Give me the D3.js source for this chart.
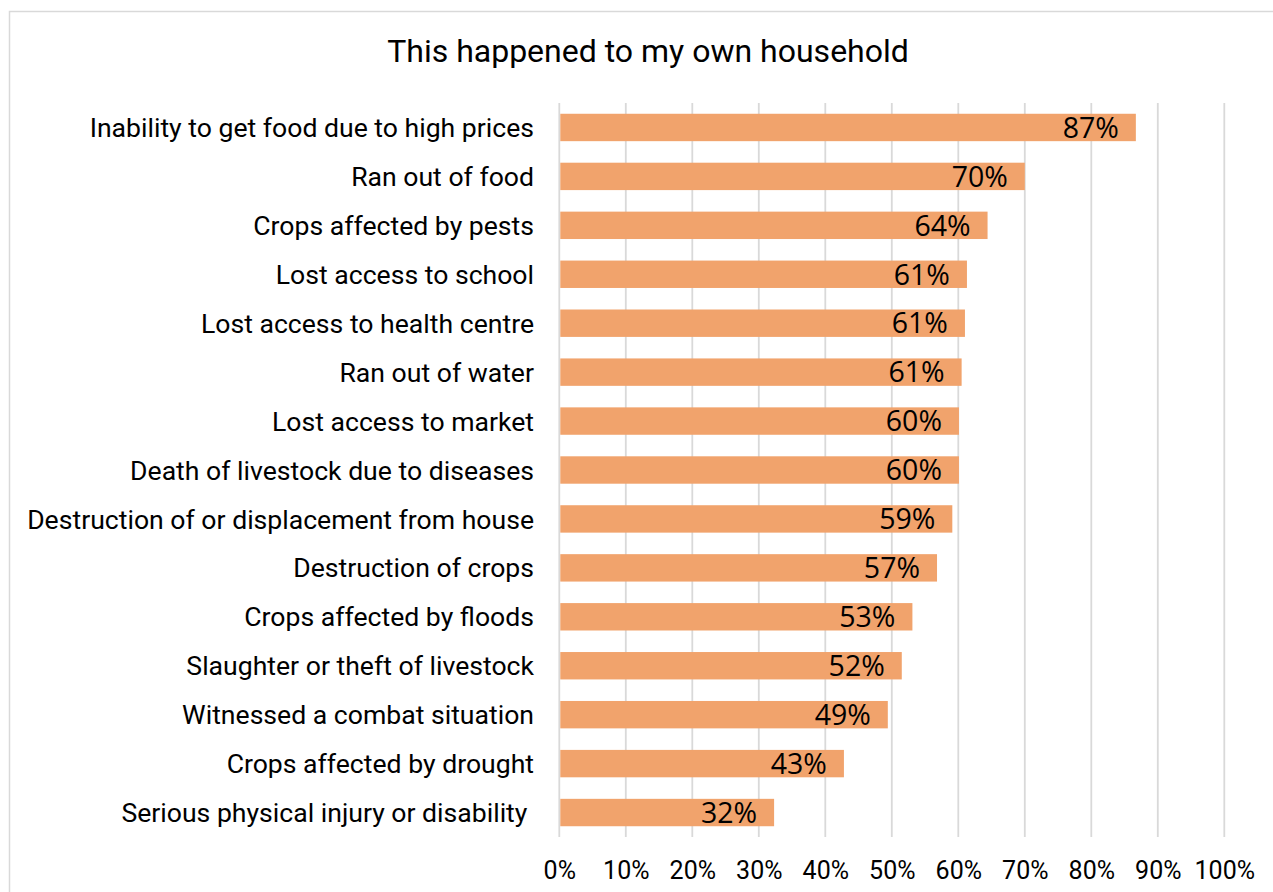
<!DOCTYPE html>
<html>
<head>
<meta charset="utf-8">
<script src="https://cdn.jsdelivr.net/npm/d3@7"></script>
<style>
  html, body { margin: 0; padding: 0; background: #ffffff; }
  svg { display: block; }
</style>
</head>
<body>
<svg id="chart" width="1273" height="892"></svg>
<script>
// Household shocks, share of respondents (%)
const categories = [
  "Inability to get food due to high prices",
  "Ran out of food",
  "Crops affected by pests",
  "Lost access to school",
  "Lost access to health centre",
  "Ran out of water",
  "Lost access to market",
  "Death of livestock due to diseases",
  "Destruction of or displacement from house",
  "Destruction of crops",
  "Crops affected by floods",
  "Slaughter or theft of livestock",
  "Witnessed a combat situation",
  "Crops affected by drought",
  "Serious physical injury or disability "
];
const values = [86.7, 70.0, 64.4, 61.3, 61.0, 60.5, 60.1, 60.1, 59.1, 56.8, 53.1, 51.5, 49.4, 42.8, 32.3];
const tickValues = [0, 10, 20, 30, 40, 50, 60, 70, 80, 90, 100];
const title = "This happened to my own household";

const svg = d3.select("#chart");
const W = 1273, H = 892;

// outer frame
svg.append("rect")
  .attr("x", 9.5).attr("y", 11.5)
  .attr("width", W + 20).attr("height", H + 20)
  .attr("fill", "none").attr("stroke", "#d9d9d9").attr("stroke-width", 1.5);

const x = d3.scaleLinear().domain([0, 100]).range([559.3, 1224.3]);
const y = d3.scaleBand().domain(categories).range([103, 837]).paddingInner(0.44).paddingOuter(0.22);

// vertical gridlines
svg.append("g")
  .selectAll("line")
  .data(tickValues)
  .join("line")
  .attr("x1", d => x(d)).attr("x2", d => x(d))
  .attr("y1", 103).attr("y2", 837)
  .attr("stroke", "#d9d9d9").attr("stroke-width", 1.8);

// bars
svg.append("g")
  .selectAll("rect")
  .data(values)
  .join("rect")
  .attr("x", x(0) + 1)
  .attr("y", (d, i) => y(categories[i]))
  .attr("width", d => x(d) - x(0) - 1)
  .attr("height", y.bandwidth())
  .attr("fill", "#f1a36c");

// value labels at the inner end of each bar
svg.append("g")
  .selectAll("text")
  .data(values)
  .join("text")
  .attr("x", d => x(d) - 17)
  .attr("y", (d, i) => y(categories[i]) + y.bandwidth() / 2)
  .attr("dy", "0.36em")
  .attr("text-anchor", "end")
  .attr("font-family", "'Open Sans', sans-serif")
  .attr("font-size", 28.5)
  .attr("fill", "#000")
  .text(d => Math.round(d) + "%");

// category labels
svg.append("g")
  .selectAll("text")
  .data(categories)
  .join("text")
  .attr("x", 534)
  .attr("y", d => y(d) + y.bandwidth() / 2)
  .attr("dy", "0.36em")
  .attr("text-anchor", "end")
  .attr("font-family", "Roboto, sans-serif")
  .attr("font-size", 26.6)
  .attr("fill", "#000")
  .style("white-space", "pre")
  .text(d => d);

// x-axis tick labels
const axis = d3.axisBottom(x).tickValues(tickValues).tickSize(0).tickPadding(0).tickFormat(d => d + "%");
const gx = svg.append("g").attr("transform", "translate(0,861)").call(axis);
gx.select(".domain").remove();
gx.selectAll("text")
  .attr("dy", "0.71em")
  .attr("font-family", "Roboto, sans-serif")
  .attr("font-size", 25)
  .attr("fill", "#000");

// title
svg.append("text")
  .attr("x", 648).attr("y", 50)
  .attr("dy", "0.36em")
  .attr("text-anchor", "middle")
  .attr("font-family", "Roboto, sans-serif")
  .attr("font-size", 32)
  .attr("fill", "#000")
  .text(title);
</script>
</body>
</html>
